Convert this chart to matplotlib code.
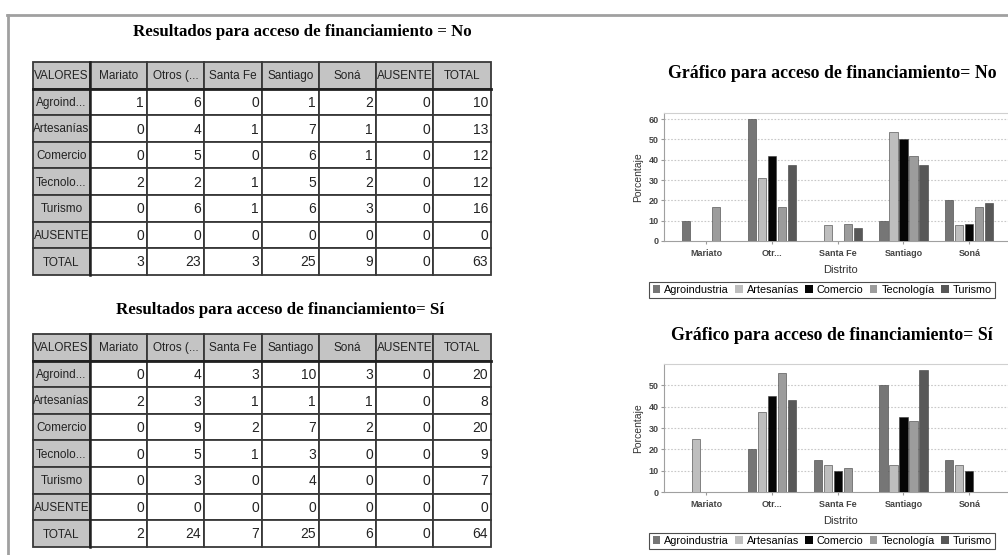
import matplotlib
matplotlib.use("Agg")
import matplotlib.pyplot as plt
from matplotlib.patches import Rectangle, Patch

# table contents (counts)
TABLE_COLS = ["VALORES", "Mariato", "Otros (...", "Santa Fe", "Santiago", "Soná", "AUSENTE", "TOTAL"]
ROW_LABELS = ["Agroind...", "Artesanías", "Comercio", "Tecnolo...", "Turismo", "AUSENTE", "TOTAL"]

counts_no = [
    [1, 6, 0, 1, 2, 0, 10],
    [0, 4, 1, 7, 1, 0, 13],
    [0, 5, 0, 6, 1, 0, 12],
    [2, 2, 1, 5, 2, 0, 12],
    [0, 6, 1, 6, 3, 0, 16],
    [0, 0, 0, 0, 0, 0, 0],
    [3, 23, 3, 25, 9, 0, 63],
]
counts_si = [
    [0, 4, 3, 10, 3, 0, 20],
    [2, 3, 1, 1, 1, 0, 8],
    [0, 9, 2, 7, 2, 0, 20],
    [0, 5, 1, 3, 0, 0, 9],
    [0, 3, 0, 4, 0, 0, 7],
    [0, 0, 0, 0, 0, 0, 0],
    [2, 24, 7, 25, 6, 0, 64],
]

# bar charts (percent per sector)
DISTRICTS = ["Mariato", "Otr...", "Santa Fe", "Santiago", "Soná"]
SECTORS = ["Agroindustria", "Artesanías", "Comercio", "Tecnología", "Turismo"]

agro_no = [10, 60, 0, 10, 20]
art_no = [0, 30.8, 7.7, 53.8, 7.7]
com_no = [0, 41.7, 0, 50, 8.3]
tec_no = [16.7, 16.7, 8.3, 41.7, 16.7]
tur_no = [0, 37.5, 6.3, 37.5, 18.8]

agro_si = [0, 20, 15, 50, 15]
art_si = [25, 37.5, 12.5, 12.5, 12.5]
com_si = [0, 45, 10, 35, 10]
tec_si = [0, 55.6, 11.1, 33.3, 0]
tur_si = [0, 42.9, 0, 57.1, 0]

COLORS = ["#767676", "#bebebe", "#050505", "#9c9c9c", "#585858"]

W, H = 1008, 555
COL_X = [33, 90, 147, 204, 262, 319, 376, 433, 491]
ROW_H = 26.6
SERIF = ["Liberation Serif", "DejaVu Serif"]
SANS = ["Liberation Sans", "DejaVu Sans"]


def draw_table(ax, top, counts):
    for r in range(8):
        for c in range(8):
            x0 = COL_X[c]
            w = COL_X[c + 1] - x0
            y0 = top + r * ROW_H
            grey = r == 0 or c == 0
            ax.add_patch(Rectangle((x0, y0), w, ROW_H,
                                   facecolor="#c4c4c4" if grey else "white",
                                   edgecolor="#383838", lw=1.3))
            size = 8.5
            if r == 0:
                txt, ha, tx = TABLE_COLS[c], "center", x0 + w / 2
            elif c == 0:
                txt, ha, tx = ROW_LABELS[r - 1], "center", x0 + w / 2
            else:
                txt, ha, tx = str(counts[r - 1][c - 1]), "right", x0 + w - 3
                size = 10
            ax.text(tx, y0 + ROW_H / 2 + 1, txt, ha=ha, va="center",
                    fontsize=size, family=SANS, color="#222222")
    # heavier rules under the header and right of the row labels
    ax.plot([COL_X[0], COL_X[-1]], [top + ROW_H, top + ROW_H], color="#202020", lw=2)
    ax.plot([COL_X[1], COL_X[1]], [top, top + 8 * ROW_H], color="#202020", lw=1.8)


def draw_chart(fig, bottom_px, series, ytop, yticks):
    left, right, height = 664, 1016, 128
    ax = fig.add_axes([left / W, (H - bottom_px) / H, (right - left) / W, height / H])
    xs = range(len(DISTRICTS))
    pitch, width = 0.152, 0.127
    for i, vals in enumerate(series):
        pos = [x + (i - 2) * pitch for x in xs]
        ax.bar(pos, vals, width=width, color=COLORS[i], edgecolor="#3c3c3c",
               lw=0.4, label=SECTORS[i], zorder=3)
    ax.set_xlim(-0.64, 4.71)
    ax.set_ylim(0, ytop)
    ax.set_yticks(yticks)
    ax.set_xticks(list(xs))
    ax.set_xticklabels(DISTRICTS, fontsize=6.5, family=SANS, fontweight="bold", color="#444444")
    ax.tick_params(axis="y", labelsize=6.5, labelcolor="#444444", length=2, color="#999999", pad=2)
    ax.tick_params(axis="x", length=2, color="#999999", pad=4)
    for lab in ax.get_yticklabels():
        lab.set_fontweight("bold")
        lab.set_family(SANS)
    for t in yticks[1:]:
        ax.axhline(t, color="#c8c8c8", lw=0.8, ls=(0, (1.5, 1.5)), zorder=1)
    for s in ["left", "bottom"]:
        ax.spines[s].set_color("#a0a0a0")
    ax.spines["top"].set_color("#d0d0d0")
    ax.spines["right"].set_visible(False)
    ax.set_ylabel("Porcentaje", fontsize=7.5, family=SANS, color="#333333", labelpad=4)
    ax.set_xlabel("Distrito", fontsize=8, family=SANS, color="#333333", labelpad=5)
    handles = [Patch(facecolor=COLORS[i], edgecolor="none", label=SECTORS[i]) for i in range(5)]
    ax.legend(handles=handles, ncol=5, loc="center",
              bbox_to_anchor=(822 / W, (H - (bottom_px + 49)) / H),
              bbox_transform=fig.transFigure, frameon=True, fancybox=False,
              edgecolor="#222222", prop={"family": SANS, "size": 7.8},
              handlelength=0.7, handleheight=0.7, handletextpad=0.35,
              columnspacing=0.6, borderpad=0.3, borderaxespad=0)
    ax.get_legend().get_frame().set_linewidth(0.8)
    return ax


def main():
    fig = plt.figure(figsize=(W / 100, H / 100), dpi=100)
    bg = fig.add_axes([0, 0, 1, 1])
    bg.set_xlim(0, W)
    bg.set_ylim(H, 0)
    bg.axis("off")

    # page frame
    bg.plot([7, W], [15, 15], color="#a0a0a0", lw=2)
    bg.plot([8, 8], [15, H], color="#a0a0a0", lw=2)

    bg.text(302, 32, "Resultados para acceso de financiamiento = No", ha="center", va="center",
            fontsize=12.2, fontweight="bold", family=SERIF)
    draw_table(bg, 62, counts_no)

    bg.text(280, 310, "Resultados para acceso de financiamiento= Sí", ha="center", va="center",
            fontsize=12.2, fontweight="bold", family=SERIF)
    draw_table(bg, 334, counts_si)

    bg.text(832, 74, "Gráfico para acceso de financiamiento= No", ha="center", va="center",
            fontsize=12.8, fontweight="bold", family=SERIF)
    draw_chart(fig, 241, [agro_no, art_no, com_no, tec_no, tur_no], 63, [0, 10, 20, 30, 40, 50, 60])

    bg.text(832, 335, "Gráfico para acceso de financiamiento= Sí", ha="center", va="center",
            fontsize=12.8, fontweight="bold", family=SERIF)
    draw_chart(fig, 492, [agro_si, art_si, com_si, tec_si, tur_si], 60, [0, 10, 20, 30, 40, 50])

    fig.savefig("out.png", dpi=100)
    plt.close(fig)


if __name__ == "__main__":
    main()
